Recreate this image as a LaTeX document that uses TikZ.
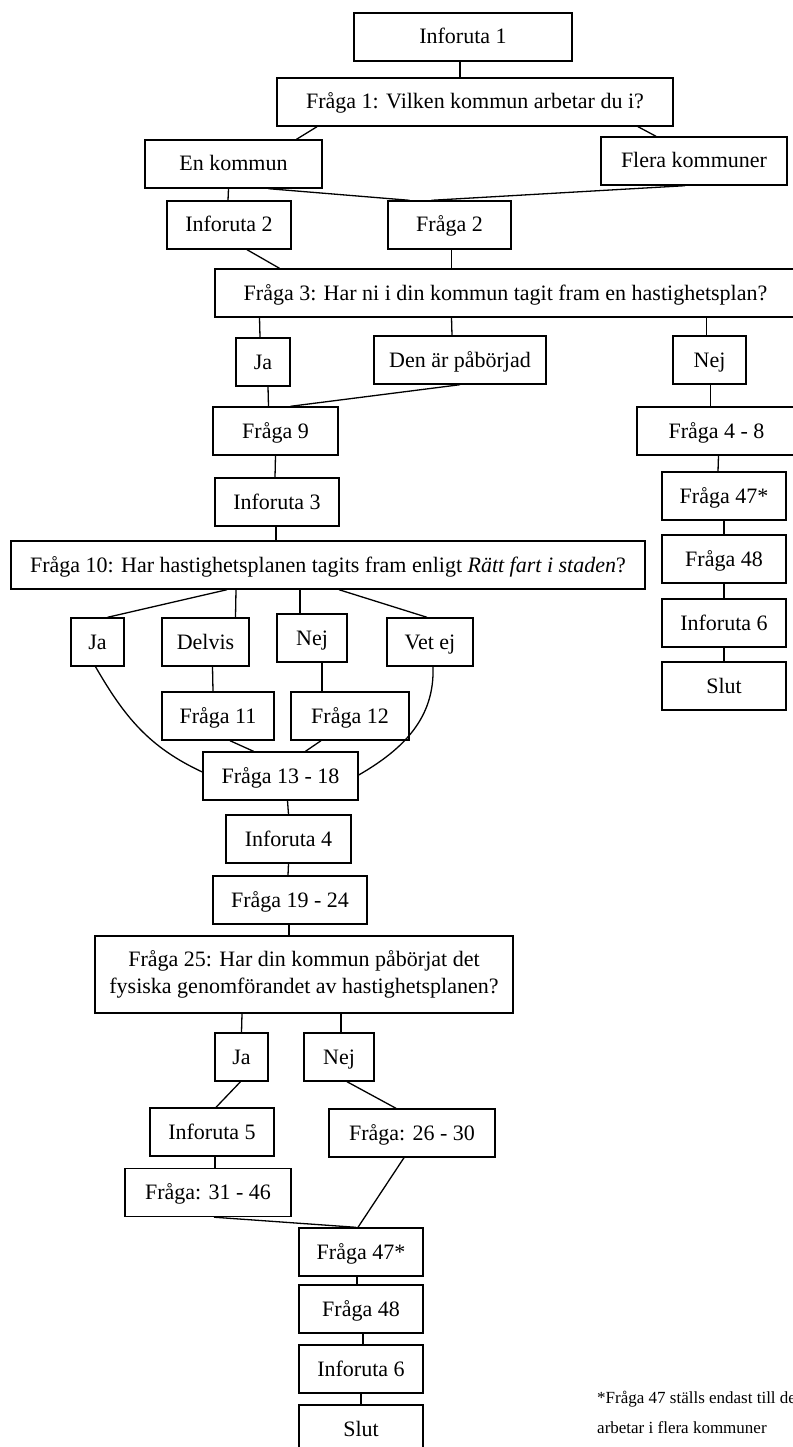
\documentclass[tikz,border=0pt]{standalone}
\usepackage{fontspec}
\setmainfont{Liberation Serif}
\usepackage{tikz}

\begin{document}
\begin{tikzpicture}[
    x=1pt,y=-1pt,
    font=\fontsize{22}{27}\selectfont,
    qbox/.style={rectangle,draw,line width=1.4pt,align=center,minimum height=48pt,inner sep=0pt},
    box/.style={qbox,text height=19pt,text depth=5pt},
    link/.style={line width=1.3pt},
    note/.style={align=left,inner sep=0pt,font=\fontsize{17}{30}\selectfont}
]
\useasboundingbox[fill=white] (0,0) rectangle (792,1447);
\node[box,minimum width=218pt] (info1) at (463,37) {Inforuta 1};
\node[box,minimum width=396pt] (q1) at (475,102) {Fråga 1: Vilken kommun arbetar du i?};
\node[box,minimum width=177pt] (en) at (233.5,164) {En kommun};
\node[box,minimum width=186pt] (flera) at (694,161) {Flera kommuner};
\node[box,minimum width=124pt] (info2) at (229,225) {Inforuta 2};
\node[box,minimum width=123pt] (q2) at (449.5,225) {Fråga 2};
\node[box,minimum width=581pt] (q3) at (505.5,293) {Fråga 3: Har ni i din kommun tagit fram en hastighetsplan?};
\node[box,minimum width=54pt] (ja1) at (263,362) {Ja};
\node[box,minimum width=172pt] (borjad) at (460,360) {Den är påbörjad};
\node[box,minimum width=73pt] (nej1) at (709.5,360) {Nej};
\node[box,minimum width=125pt] (q9) at (275.5,431) {Fråga 9};
\node[box,minimum width=159pt] (q4) at (716.5,431) {Fråga 4 - 8};
\node[box,minimum width=124pt] (info3) at (277,502) {Inforuta 3};
\node[box,minimum width=124pt] (q47r) at (724,496) {Fråga 47*};
\node[box,minimum width=124pt] (q48r) at (724,559) {Fråga 48};
\node[box,minimum width=124pt] (info6r) at (724,623) {Inforuta 6};
\node[box,minimum width=124pt] (slutr) at (724,686) {Slut};
\node[box,minimum width=634pt] (q10) at (328,565) {Fråga 10: Har hastighetsplanen tagits fram enligt \textit{Rätt fart i staden}?};
\node[box,minimum width=53pt] (ja2) at (97.5,642) {Ja};
\node[box,minimum width=87pt] (delvis) at (205.5,642) {Delvis};
\node[box,minimum width=70pt] (nej2) at (312,638) {Nej};
\node[box,minimum width=86pt] (vetej) at (430,642) {Vet ej};
\node[box,minimum width=112pt] (q11) at (218,716) {Fråga 11};
\node[box,minimum width=118pt] (q12) at (350,716) {Fråga 12};
\node[box,minimum width=155pt] (q13) at (280.5,776) {Fråga 13 - 18};
\node[box,minimum width=125pt] (info4) at (288.5,839) {Inforuta 4};
\node[box,minimum width=154pt] (q19) at (290,900) {Fråga 19 - 24};
\node[qbox,minimum width=418pt,minimum height=77pt] (q25) at (304,974.5) {Fråga 25: Har din kommun påbörjat det\\fysiska genomförandet av hastighetsplanen?};
\node[box,minimum width=53pt] (ja3) at (241.5,1057) {Ja};
\node[box,minimum width=70pt] (nej3) at (339,1057) {Nej};
\node[box,minimum width=124pt] (info5) at (212,1132) {Inforuta 5};
\node[box,minimum width=166pt] (q26) at (412,1133) {Fråga: 26 - 30};
\node[box,minimum width=166pt] (q31) at (208,1192.5) {Fråga: 31 - 46};
\node[box,minimum width=124pt] (q47) at (361,1252) {Fråga 47*};
\node[box,minimum width=124pt] (q48) at (361,1309) {Fråga 48};
\node[box,minimum width=124pt] (info6) at (361,1369) {Inforuta 6};
\node[box,minimum width=124pt] (slut) at (361,1429) {Slut};
\node[note,anchor=north west] (fotnot) at (597,1391) {*Fråga 47 ställs endast till de\\arbetar i flera kommuner};
\draw[link] ([xshift=-3pt]info1.south) -- ([xshift=-15pt]q1.north);
\draw[link] ([xshift=-158pt]q1.south) -- ([xshift=63pt]en.north);
\draw[link] ([xshift=163pt]q1.south) -- ([xshift=-38pt]flera.north);
\draw[link] ([xshift=-5pt]en.south) -- ([xshift=-1pt]info2.north);
\draw[link] ([xshift=35pt]en.south) -- ([xshift=-40pt]q2.north);
\draw[link] ([xshift=-9pt]flera.south) -- ([xshift=-18pt]q2.north);
\draw[link] ([xshift=18pt]info2.south) -- ([xshift=-226pt]q3.north);
\draw[link] ([xshift=2pt]q2.south) -- ([xshift=-54pt]q3.north);
\draw[link] ([xshift=-246pt]q3.south) -- ([xshift=-3pt]ja1.north);
\draw[link] ([xshift=-54pt]q3.south) -- ([xshift=-8pt]borjad.north);
\draw[link] ([xshift=201pt]q3.south) -- ([xshift=-3pt]nej1.north);
\draw[link] ([xshift=5pt]ja1.south) -- ([xshift=-7pt]q9.north);
\draw[link] (borjad.south) -- ([xshift=15pt]q9.north);
\draw[link] ([xshift=1pt]nej1.south) -- ([xshift=-6pt]q4.north);
\draw[link] ([xshift=2pt]q4.south) -- ([xshift=-6pt]q47r.north);
\draw[link] (q47r) -- (q48r);
\draw[link] (q48r) -- (info6r);
\draw[link] (info6r) -- (slutr);
\draw[link] (q9.south) -- ([xshift=-2pt]info3.north);
\draw[link] ([xshift=-1pt]info3.south) -- ([xshift=-52pt]q10.north);
\draw[link] ([xshift=-101pt]q10.south) -- ([xshift=10pt]ja2.north);
\draw[link] ([xshift=-92pt]q10.south) -- ([xshift=30pt]delvis.north);
\draw[link] ([xshift=-28pt]q10.south) -- ([xshift=-12pt]nej2.north);
\draw[link] ([xshift=11pt]q10.south) -- ([xshift=-3pt]vetej.north);
\draw[link] ([xshift=7pt]delvis.south) -- ([xshift=-5pt]q11.north);
\draw[link] ([xshift=10pt]nej2.south) -- ([xshift=-28pt]q12.north);
\draw[link] ([xshift=12pt]q11.south) -- ([xshift=-27pt]q13.north);
\draw[link] ([xshift=-29pt]q12.south) -- ([xshift=25pt]q13.north);
\draw[link] ([xshift=-2pt]ja2.south) to[out=-60,in=155] ([yshift=4pt]q13.west);
\draw[link] ([xshift=3pt]vetej.south) to[out=-88,in=30] ([yshift=1pt]q13.east);
\draw[link] ([xshift=7pt]q13.south) -- (info4.north);
\draw[link] (info4.south) -- ([xshift=-2pt]q19.north);
\draw[link] ([xshift=-1pt]q19.south) -- ([xshift=-15pt]q25.north);
\draw[link] ([xshift=-62pt]q25.south) -- (ja3.north);
\draw[link] ([xshift=37pt]q25.south) -- ([xshift=2pt]nej3.north);
\draw[link] ([xshift=-1pt]ja3.south) -- ([xshift=4pt]info5.north);
\draw[link] ([xshift=8pt]nej3.south) -- ([xshift=-16pt]q26.north);
\draw[link] ([xshift=3pt]info5.south) -- ([xshift=7pt]q31.north);
\draw[link] ([xshift=-8pt]q26.south) -- ([xshift=-3pt]q47.north);
\draw[link] ([xshift=6pt]q31.south) -- ([xshift=-5pt]q47.north);
\draw[link] ([xshift=-4pt]q47.south) -- ([xshift=-4pt]q48.north);
\draw[link] ([xshift=2pt]q48.south) -- ([xshift=2pt]info6.north);
\draw[link] (info6) -- (slut);
\end{tikzpicture}
\end{document}
